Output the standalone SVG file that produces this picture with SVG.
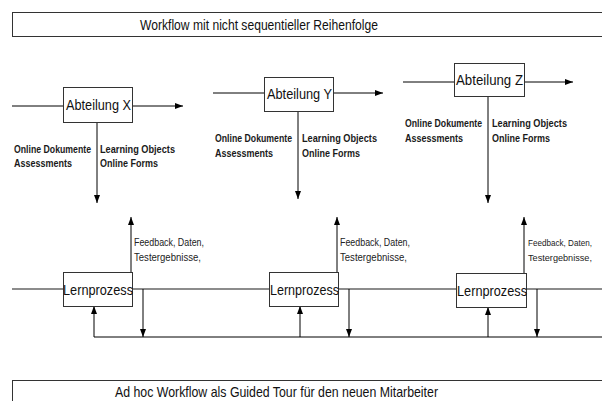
<svg xmlns="http://www.w3.org/2000/svg" width="602" height="401" viewBox="0 0 602 401">
<defs>
<marker id="ah" viewBox="0 0 8 6" refX="8" refY="3" markerWidth="8" markerHeight="6" markerUnits="userSpaceOnUse" orient="auto">
<path d="M0,0 L8,3 L0,6 Z" fill="#000"/>
</marker>
</defs>
<style>
text{font-family:"Liberation Sans",Arial,sans-serif;fill:#111}
.box{fill:#fff;stroke:#333;stroke-width:1}
.big{font-size:15px}
.lbl{font-size:10.5px;font-weight:bold;fill:#1a1a1a}
.fb{font-size:10.5px;fill:#222}
.fbs{font-size:9px;fill:#222}
.ln{stroke:#000;stroke-width:1;fill:none}
.gl{stroke:#666;stroke-width:1.3;fill:none}
.ar{stroke:#000;stroke-width:1;fill:none;marker-end:url(#ah)}
</style>
<rect width="602" height="401" fill="#fff"/>

<g id="connectors">
<line class="ln" x1="12" y1="106" x2="63" y2="106"/>
<line class="ar" x1="132" y1="106" x2="183" y2="106"/>
<line class="ar" x1="97" y1="122" x2="97" y2="203"/>
<line class="ln" x1="213" y1="93" x2="264" y2="93"/>
<line class="ar" x1="333" y1="93" x2="383" y2="93"/>
<line class="ar" x1="298" y1="111" x2="298" y2="199"/>
<line class="ln" x1="403" y1="82" x2="454" y2="82"/>
<line class="ar" x1="524" y1="82" x2="573" y2="82"/>
<line class="ar" x1="488" y1="96" x2="488" y2="203"/>

<line class="gl" x1="12" y1="289" x2="63" y2="289"/>
<line class="gl" x1="132" y1="289" x2="269" y2="289"/>
<line class="gl" x1="338" y1="289" x2="456" y2="289"/>
<line class="gl" x1="526" y1="289" x2="602" y2="289"/>

<line class="ar" x1="131" y1="272" x2="131" y2="217"/>
<line class="ar" x1="337" y1="272" x2="337" y2="217"/>
<line class="ar" x1="524" y1="273" x2="524" y2="217"/>

<line class="ar" x1="94" y1="337" x2="94" y2="306"/>
<line class="ar" x1="300" y1="337" x2="300" y2="306"/>
<line class="ar" x1="488" y1="337" x2="488" y2="307"/>

<line class="ar" x1="143" y1="289" x2="143" y2="337"/>
<line class="ar" x1="349" y1="289" x2="349" y2="337"/>
<line class="ar" x1="537" y1="289" x2="537" y2="337"/>

<line class="ln" x1="94" y1="337" x2="602" y2="337"/>

<text class="lbl" x="14" y="153" textLength="77" lengthAdjust="spacingAndGlyphs">Online Dokumente</text>
<text class="lbl" x="14" y="167" textLength="58" lengthAdjust="spacingAndGlyphs">Assessments</text>
<text class="lbl" x="100" y="153" textLength="75" lengthAdjust="spacingAndGlyphs">Learning Objects</text>
<text class="lbl" x="100" y="167" textLength="58" lengthAdjust="spacingAndGlyphs">Online Forms</text>

<text class="lbl" x="215" y="142" textLength="77" lengthAdjust="spacingAndGlyphs">Online Dokumente</text>
<text class="lbl" x="215" y="157" textLength="58" lengthAdjust="spacingAndGlyphs">Assessments</text>
<text class="lbl" x="302" y="142" textLength="75" lengthAdjust="spacingAndGlyphs">Learning Objects</text>
<text class="lbl" x="302" y="157" textLength="58" lengthAdjust="spacingAndGlyphs">Online Forms</text>

<text class="lbl" x="405" y="127" textLength="77" lengthAdjust="spacingAndGlyphs">Online Dokumente</text>
<text class="lbl" x="405" y="142" textLength="58" lengthAdjust="spacingAndGlyphs">Assessments</text>
<text class="lbl" x="492" y="127" textLength="75" lengthAdjust="spacingAndGlyphs">Learning Objects</text>
<text class="lbl" x="492" y="142" textLength="58" lengthAdjust="spacingAndGlyphs">Online Forms</text>

<text class="fb" x="134" y="246" textLength="70" lengthAdjust="spacingAndGlyphs">Feedback, Daten,</text>
<text class="fb" x="134" y="261" textLength="67" lengthAdjust="spacingAndGlyphs">Testergebnisse,</text>
<text class="fb" x="340" y="246" textLength="70" lengthAdjust="spacingAndGlyphs">Feedback, Daten,</text>
<text class="fb" x="340" y="261" textLength="67" lengthAdjust="spacingAndGlyphs">Testergebnisse,</text>
<text class="fbs" x="528" y="246" textLength="64" lengthAdjust="spacingAndGlyphs">Feedback, Daten,</text>
<text class="fbs" x="528" y="261" textLength="64" lengthAdjust="spacingAndGlyphs">Testergebnisse,</text>
</g>

<g id="title">
<rect class="box" x="12.5" y="12.5" width="600" height="24"/>
<text class="big" x="140" y="30" textLength="238" lengthAdjust="spacingAndGlyphs">Workflow mit nicht sequentieller Reihenfolge</text>
</g>

<g id="abteilung-x">
<rect class="box" x="63.5" y="87.5" width="69" height="35"/>
<text class="big" x="66" y="110" textLength="65" lengthAdjust="spacingAndGlyphs">Abteilung X</text>
</g>
<g id="abteilung-y">
<rect class="box" x="264.5" y="77.5" width="69" height="34"/>
<text class="big" x="267" y="99" textLength="65" lengthAdjust="spacingAndGlyphs">Abteilung Y</text>
</g>
<g id="abteilung-z">
<rect class="box" x="454.5" y="63.5" width="70" height="33"/>
<text class="big" x="456" y="85" textLength="67" lengthAdjust="spacingAndGlyphs">Abteilung Z</text>
</g>

<g id="lernprozess-x">
<rect class="box" x="63.5" y="272.5" width="69" height="34"/>
<text class="big" x="63" y="295" textLength="70" lengthAdjust="spacingAndGlyphs">Lernprozess</text>
</g>
<g id="lernprozess-y">
<rect class="box" x="269.5" y="272.5" width="69" height="34"/>
<text class="big" x="270" y="295" textLength="69" lengthAdjust="spacingAndGlyphs">Lernprozess</text>
</g>
<g id="lernprozess-z">
<rect class="box" x="456.5" y="273.5" width="70" height="34"/>
<text class="big" x="457" y="296" textLength="70" lengthAdjust="spacingAndGlyphs">Lernprozess</text>
</g>

<g id="footer">
<rect class="box" x="12.5" y="380.5" width="600" height="30"/>
<text class="big" x="115" y="397" textLength="323" lengthAdjust="spacingAndGlyphs">Ad hoc Workflow als Guided Tour für den neuen Mitarbeiter</text>
</g>
</svg>
